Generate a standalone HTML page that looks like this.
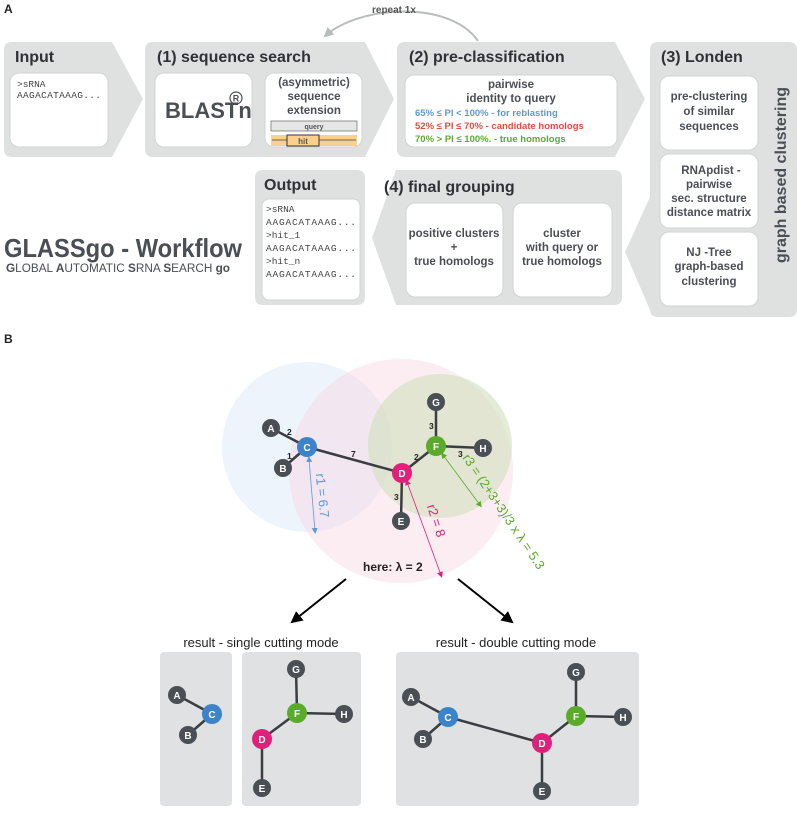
<!DOCTYPE html>
<html><head><meta charset="utf-8"><style>
body{margin:0;background:#fff}
svg text{font-family:"Liberation Sans",Arial,sans-serif}
.t{font-weight:bold;fill:#2e3136}
.b{font-weight:bold;fill:#4a4e55;font-size:11.5px;text-anchor:middle}
svg .m, svg .m text{font-family:"Liberation Mono",monospace;font-size:9.5px;fill:#444}
.nl{font-weight:bold;fill:#fff;font-size:10px;text-anchor:middle}
.el{font-weight:bold;fill:#222;font-size:8.5px}
</style></head><body>
<svg width="800" height="809" viewBox="0 0 800 809" xmlns="http://www.w3.org/2000/svg">
<defs>
<marker id="ah" markerUnits="userSpaceOnUse" markerWidth="14" markerHeight="14" refX="10" refY="6" orient="auto"><path d="M0,0 L12,6 L0,12z" fill="#000"/></marker>
<marker id="ag" markerUnits="userSpaceOnUse" markerWidth="12" markerHeight="12" refX="8" refY="5" orient="auto"><path d="M0,0 L10,5 L0,10z" fill="#b9bcbd"/></marker>
<marker id="sb" markerUnits="userSpaceOnUse" markerWidth="6" markerHeight="6" refX="3" refY="3" orient="auto-start-reverse"><path d="M0,0 L6,3 L0,6z" fill="#5b9bd5"/></marker>
<marker id="sp" markerUnits="userSpaceOnUse" markerWidth="6" markerHeight="6" refX="3" refY="3" orient="auto-start-reverse"><path d="M0,0 L6,3 L0,6z" fill="#e0217c"/></marker>
<marker id="sg" markerUnits="userSpaceOnUse" markerWidth="6" markerHeight="6" refX="3" refY="3" orient="auto-start-reverse"><path d="M0,0 L6,3 L0,6z" fill="#5aab2a"/></marker>
</defs>
<text x="4" y="13" font-weight="bold" font-size="12" fill="#222">A</text>
<text x="4" y="343" font-weight="bold" font-size="12" fill="#222">B</text>
<path d="M478,41 C450,0 360,5 325,36" fill="none" stroke="#b9bcbd" stroke-width="2" marker-end="url(#ag)"/>
<text x="372" y="13" font-weight="bold" font-size="10" fill="#555">repeat 1x</text>
<g fill="#dfe1e1">
<path d="M12,42 H112 L143,99 L112,157 H12 Q4,157 4,149 V50 Q4,42 12,42z"/>
<path d="M153,42 H365 L394,99 L365,157 H153 Q145,157 145,149 V50 Q145,42 153,42z"/>
<path d="M405,42 H615 L645,99 L615,157 H405 Q397,157 397,149 V50 Q397,42 405,42z"/>
<path d="M658,42 H789 Q797,42 797,50 V309 Q797,317 789,317 H658 Q650,317 650,309 V310 L625,252 L650,197 V50 Q650,42 658,42z"/>
<path d="M396,170 H614 Q622,170 622,178 V297 Q622,305 614,305 H396 L372,238z"/>
<path d="M263,170 H357 Q365,170 365,178 V297 Q365,305 357,305 H263 Q255,305 255,297 V178 Q255,170 263,170z"/>
</g>
<g class="t" font-size="16">
<text x="15" y="62">Input</text>
<text x="157" y="62">(1)  sequence search</text>
<text x="409" y="62">(2)  pre-classification</text>
<text x="661" y="62">(3)  Londen</text>
<text x="384" y="192">(4)  final grouping</text>
<text x="264" y="190">Output</text>
</g>
<g fill="#fff" stroke="#d2d4d4" stroke-width="1">
<rect x="10" y="73" width="98" height="74" rx="9"/>
<rect x="155" y="73" width="97" height="74" rx="9"/>
<rect x="265" y="73" width="97" height="74" rx="9"/>
<rect x="405" y="75" width="212" height="72" rx="9"/>
<rect x="660" y="76" width="98" height="74" rx="9"/>
<rect x="660" y="154" width="98" height="74" rx="9"/>
<rect x="660" y="232" width="98" height="74" rx="9"/>
<rect x="406" y="203" width="97" height="94" rx="9"/>
<rect x="513" y="203" width="99" height="94" rx="9"/>
<rect x="262" y="199" width="98" height="101" rx="7"/>
</g>
<text class="m" x="17" y="87">&gt;sRNA</text>
<text class="m" x="17" y="98" textLength="84">AAGACATAAAG...</text>
<g class="m"><text x="266" y="212">&gt;sRNA</text><text x="266" y="225" textLength="90">AAGACATAAAG...</text><text x="266" y="238">&gt;hit_1</text><text x="266" y="251" textLength="90">AAGACATAAAG...</text><text x="266" y="264">&gt;hit_n</text><text x="266" y="277" textLength="90">AAGACATAAAG...</text></g>
<text x="165" y="118" font-weight="bold" font-size="22" fill="#4a4e55">BLASTn</text>
<circle cx="236" cy="98" r="6" fill="none" stroke="#4a4e55" stroke-width="1.2"/><text x="236" y="101.5" font-size="9" font-weight="bold" fill="#4a4e55" text-anchor="middle">R</text>
<g class="b"><text x="314" y="86">(asymmetric)</text><text x="314" y="100">sequence</text><text x="314" y="114">extension</text></g>
<rect x="271" y="121" width="86" height="10" fill="#e6e6e6" stroke="#666" stroke-width="0.7"/>
<text x="314" y="129" font-size="7" font-weight="bold" fill="#555" text-anchor="middle">query</text>
<rect x="271" y="135" width="86" height="11" fill="#fbd08c"/>
<line x1="272" y1="140" x2="356" y2="140" stroke="#666" stroke-width="1"/>
<rect x="287" y="135" width="32" height="11" fill="#fbd08c" stroke="#333" stroke-width="1"/>
<text x="303" y="144" font-size="8" font-weight="bold" fill="#555" text-anchor="middle">hit</text>
<g class="b"><text x="511" y="88">pairwise</text><text x="511" y="102">identity to query</text></g>
<g font-size="9.5" font-weight="bold">
<text x="415" y="116" fill="#5b9bd5">65% ≤ PI &lt; 100%   -   for reblasting</text>
<text x="415" y="129" fill="#e8493f">52% ≤ PI ≤ 70%      -   candidate homologs</text>
<text x="415" y="142" fill="#5aab2a">70% &gt; PI ≤ 100%.  -   true homologs</text>
</g>
<g class="b"><text x="709" y="100">pre-clustering</text><text x="709" y="115">of similar</text><text x="709" y="130">sequences</text>
<text x="711" y="174">RNApdist -</text><text x="709" y="188">pairwise</text><text x="709" y="202">sec. structure</text><text x="709" y="216">distance matrix</text>
<text x="709" y="256">NJ -Tree</text><text x="709" y="270">graph-based</text><text x="709" y="285">clustering</text>
<text x="454" y="237">positive clusters</text><text x="454" y="251">+</text><text x="454" y="265">true homologs</text>
<text x="562" y="237">cluster</text><text x="562" y="251">with query or</text><text x="562" y="265">true homologs</text></g>
<text transform="translate(786,175) rotate(-90)" text-anchor="middle" font-size="16" font-weight="bold" fill="#4a4e55">graph based clustering</text>
<text x="4" y="257" font-size="26" font-weight="bold" fill="#4a4e55" textLength="238" lengthAdjust="spacingAndGlyphs">GLASSgo - Workflow</text>
<text x="6" y="272" font-size="11.5" fill="#4a4e55" textLength="224" lengthAdjust="spacingAndGlyphs"><tspan font-weight="bold">G</tspan>LOBAL <tspan font-weight="bold">A</tspan>UTOMATIC <tspan font-weight="bold">S</tspan>RNA <tspan font-weight="bold">S</tspan>EARCH  <tspan font-weight="bold">go</tspan></text>
<circle cx="307" cy="447" r="85" fill="#dbe9f9" fill-opacity="0.5"/>
<circle cx="401" cy="471" r="112" fill="#f9d6e2" fill-opacity="0.45"/>
<circle cx="440" cy="446" r="72" fill="#cfe0bd" fill-opacity="0.6"/>
<g stroke="#3a3d42" stroke-width="2.5">
<line x1="271" y1="428" x2="307" y2="447"/><line x1="283" y1="468" x2="307" y2="447"/><line x1="307" y1="447" x2="402" y2="473"/>
<line x1="402" y1="473" x2="401" y2="521"/><line x1="402" y1="473" x2="436" y2="446"/><line x1="436" y1="446" x2="436" y2="402"/><line x1="436" y1="446" x2="483" y2="448"/>
</g>
<g class="el"><text x="287" y="435">2</text><text x="287" y="459">1</text><text x="351" y="457">7</text><text x="414" y="460">2</text><text x="429" y="429">3</text><text x="458" y="457">3</text><text x="394" y="500">3</text></g>
<g stroke-width="0.8">
<line x1="309" y1="459" x2="315" y2="531" stroke="#5b9bd5" marker-start="url(#sb)" marker-end="url(#sb)"/>
<line x1="407" y1="482" x2="441" y2="575" stroke="#e0217c" marker-start="url(#sp)" marker-end="url(#sp)"/>
<line x1="443" y1="455" x2="480" y2="505" stroke="#5aab2a" marker-start="url(#sg)" marker-end="url(#sg)"/>
</g>
<text transform="translate(318,496) rotate(84)" font-size="13" fill="#5b9bd5" text-anchor="middle">r1 = 6.7</text>
<text transform="translate(432,522) rotate(72)" font-size="13" fill="#e0217c" text-anchor="middle">r2 = 8</text>
<text transform="translate(500,514) rotate(56)" font-size="13" fill="#5aab2a" text-anchor="middle">r3 = (2+3+3)/3 x λ = 5.3</text>
<text x="363" y="571" font-size="12" font-weight="bold" fill="#222">here: λ = 2</text>
<line x1="346" y1="579" x2="292" y2="622" stroke="#000" stroke-width="2" marker-end="url(#ah)"/>
<line x1="458" y1="579" x2="512" y2="622" stroke="#000" stroke-width="2" marker-end="url(#ah)"/>
<text x="261" y="647" font-size="13" fill="#222" text-anchor="middle">result - single cutting mode</text>
<text x="516" y="647" font-size="13" fill="#222" text-anchor="middle">result - double cutting mode</text>
<g fill="#dfe1e3"><rect x="160" y="652" width="72" height="154" rx="4"/><rect x="242" y="652" width="119" height="154" rx="4"/><rect x="396" y="652" width="243" height="154" rx="4"/></g>
<g stroke="#3a3d42" stroke-width="2.5">
<line x1="177" y1="695" x2="212" y2="714"/><line x1="188" y1="735" x2="212" y2="714"/>
<line x1="296" y1="669" x2="297" y2="713"/><line x1="297" y1="713" x2="344" y2="714"/><line x1="297" y1="713" x2="262" y2="739"/><line x1="262" y1="739" x2="262" y2="788"/>
<line x1="411" y1="697" x2="448" y2="717"/><line x1="423" y1="739" x2="448" y2="717"/><line x1="448" y1="717" x2="542" y2="743"/><line x1="542" y1="743" x2="542" y2="791"/><line x1="542" y1="743" x2="576" y2="716"/><line x1="576" y1="716" x2="576" y2="672"/><line x1="576" y1="716" x2="623" y2="717"/>
</g>
<g>
<circle cx="271" cy="428" r="9" fill="#4a4e55"/><text class="nl" x="271" y="432">A</text>
<circle cx="283" cy="468" r="9" fill="#4a4e55"/><text class="nl" x="283" y="472">B</text>
<circle cx="307" cy="447" r="10" fill="#3d83c9"/><text class="nl" x="307" y="451">C</text>
<circle cx="402" cy="473" r="10" fill="#e0217c"/><text class="nl" x="402" y="477">D</text>
<circle cx="401" cy="521" r="9" fill="#4a4e55"/><text class="nl" x="401" y="525">E</text>
<circle cx="436" cy="446" r="10" fill="#5aab2a"/><text class="nl" x="436" y="450">F</text>
<circle cx="436" cy="402" r="9" fill="#4a4e55"/><text class="nl" x="436" y="406">G</text>
<circle cx="483" cy="448" r="9" fill="#4a4e55"/><text class="nl" x="483" y="452">H</text>
<circle cx="177" cy="695" r="9" fill="#4a4e55"/><text class="nl" x="177" y="699">A</text>
<circle cx="188" cy="735" r="9" fill="#4a4e55"/><text class="nl" x="188" y="739">B</text>
<circle cx="212" cy="714" r="10" fill="#3d83c9"/><text class="nl" x="212" y="718">C</text>
<circle cx="296" cy="669" r="9" fill="#4a4e55"/><text class="nl" x="296" y="673">G</text>
<circle cx="297" cy="713" r="10" fill="#5aab2a"/><text class="nl" x="297" y="717">F</text>
<circle cx="344" cy="714" r="9" fill="#4a4e55"/><text class="nl" x="344" y="718">H</text>
<circle cx="262" cy="739" r="10" fill="#e0217c"/><text class="nl" x="262" y="743">D</text>
<circle cx="262" cy="788" r="9" fill="#4a4e55"/><text class="nl" x="262" y="792">E</text>
<circle cx="411" cy="697" r="9" fill="#4a4e55"/><text class="nl" x="411" y="701">A</text>
<circle cx="423" cy="739" r="9" fill="#4a4e55"/><text class="nl" x="423" y="743">B</text>
<circle cx="448" cy="717" r="10" fill="#3d83c9"/><text class="nl" x="448" y="721">C</text>
<circle cx="542" cy="743" r="10" fill="#e0217c"/><text class="nl" x="542" y="747">D</text>
<circle cx="542" cy="791" r="9" fill="#4a4e55"/><text class="nl" x="542" y="795">E</text>
<circle cx="576" cy="716" r="10" fill="#5aab2a"/><text class="nl" x="576" y="720">F</text>
<circle cx="576" cy="672" r="9" fill="#4a4e55"/><text class="nl" x="576" y="676">G</text>
<circle cx="623" cy="717" r="9" fill="#4a4e55"/><text class="nl" x="623" y="721">H</text>
</g>
</svg>
</body></html>
